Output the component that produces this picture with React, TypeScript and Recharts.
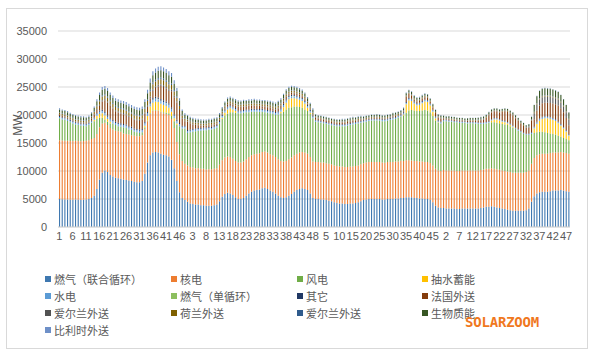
import { BarChart, Bar, XAxis, YAxis, CartesianGrid } from 'recharts'

// half-hour settlement periods, four days in a row
const halfHour = [
  1, 2, 3, 4, 5, 6, 7, 8, 9, 10, 11, 12, 13, 14, 15, 16, 17, 18, 19, 20, 21, 22, 23, 24,
  25, 26, 27, 28, 29, 30, 31, 32, 33, 34, 35, 36, 37, 38, 39, 40, 41, 42, 43, 44, 45, 46, 47, 48,
]
const periods = [...halfHour, ...halfHour, ...halfHour, ...halfHour]

const yTicks = [0, 5000, 10000, 15000, 20000, 25000, 30000, 35000]

const gasCcgt = [
  5000, 4950, 4900, 4900, 4850, 4850, 4900, 4850, 4800, 4850, 4900, 5000, 5200, 5600, 6800, 8500, 9700, 10100, 9800, 9300, 9000, 8800, 8700, 8600,
  8500, 8400, 8300, 8200, 8100, 8000, 8000, 8200, 9500, 11500, 12800, 13300, 13400, 13300, 13100, 12900, 12800, 12600, 12000, 10500, 8200, 6200, 5200, 4800,
  4500, 4200, 4100, 4000, 4000, 3900, 3900, 3800, 3800, 3800, 3900, 4000, 4600, 5400, 5900, 6100, 6000, 5700, 5300, 5000, 5000, 5200, 5600, 6000,
  6300, 6500, 6600, 6700, 6900, 7000, 6800, 6500, 6300, 6000, 5600, 5300, 5200, 5300, 5600, 5900, 6300, 6600, 6800, 6900, 6800, 6600, 6000, 5200,
  5000, 5000, 4900, 4900, 4800, 4700, 4600, 4400, 4300, 4200, 4200, 4100, 4100, 4200, 4200, 4300, 4400, 4600, 4800, 4900, 5000, 5000, 5000, 5000,
  5000, 4900, 4900, 5000, 5000, 5000, 5100, 5100, 5200, 5200, 5300, 5300, 5300, 5200, 5200, 5100, 5100, 5000, 5000, 4800, 4400, 3800, 3500, 3400,
  3400, 3300, 3300, 3300, 3300, 3200, 3200, 3300, 3300, 3300, 3300, 3300, 3300, 3300, 3400, 3500, 3600, 3600, 3700, 3600, 3500, 3400, 3300, 3200,
  3100, 3000, 2900, 2900, 2900, 2900, 2900, 3000, 3300, 4500, 5500, 6000, 6200, 6300, 6300, 6300, 6400, 6500, 6500, 6500, 6600, 6500, 6400, 6300,
]

const nuclear = [
  10500, 10500, 10510, 10500, 10490, 10500, 10500, 10510, 10500, 10490, 10500, 10500, 10500, 10300, 9800, 9300, 8800, 8500, 8400, 8400, 8400, 8400, 8400, 8400,
  8200, 8200, 8200, 8200, 8200, 8200, 8200, 8200, 8000, 7400, 7400, 7400, 7400, 7400, 7400, 7400, 7400, 7400, 7300, 7200, 7000, 6800, 6600, 6500,
  6500, 6500, 6510, 6510, 6500, 6500, 6490, 6490, 6500, 6500, 6510, 6510, 6500, 6500, 6500, 6490, 6490, 6500, 6500, 6500, 6510, 6510, 6500, 6500,
  6500, 6500, 6490, 6490, 6500, 6500, 6500, 6510, 6510, 6500, 6500, 6500, 6490, 6490, 6500, 6500, 6500, 6500, 6510, 6510, 6500, 6500, 6500, 6500,
  6600, 6600, 6610, 6610, 6600, 6600, 6590, 6590, 6600, 6600, 6610, 6610, 6600, 6600, 6600, 6590, 6590, 6600, 6600, 6600, 6610, 6610, 6600, 6600,
  6600, 6600, 6590, 6590, 6600, 6600, 6600, 6610, 6610, 6600, 6600, 6600, 6590, 6590, 6600, 6600, 6600, 6600, 6610, 6610, 6600, 6600, 6600, 6600,
  6800, 6800, 6810, 6810, 6800, 6800, 6790, 6790, 6800, 6800, 6810, 6810, 6800, 6800, 6800, 6790, 6790, 6800, 6800, 6800, 6810, 6810, 6800, 6800,
  6800, 6800, 6790, 6790, 6800, 6800, 6800, 6810, 6810, 6800, 6800, 6800, 6790, 6790, 6800, 6800, 6800, 6800, 6810, 6810, 6800, 6800, 6800, 6800,
]

const wind = [
  3900, 3750, 3750, 3550, 3350, 3150, 2900, 2850, 2800, 2750, 2600, 2700, 2900, 3000, 2700, 1700, 1000, 600, 600, 800, 1100, 1000, 900, 900,
  1100, 1100, 900, 900, 700, 700, 600, 500, 300, 100, 100, 100, 100, 100, 100, 200, 200, 300, 500, 1200, 3000, 5000, 5800, 6300,
  5800, 6200, 6400, 6600, 6700, 6800, 6900, 7000, 7100, 7100, 7100, 7200, 7300, 7400, 7500, 7700, 8000, 8300, 8600, 8800, 8800, 8700, 8400, 8000,
  7800, 7600, 7500, 7400, 7200, 7000, 7100, 7300, 7400, 7500, 8000, 8500, 8900, 9200, 9200, 9000, 8700, 8400, 8100, 7900, 7700, 7600, 7700, 7700,
  7200, 7100, 7100, 7000, 7000, 7000, 7000, 7100, 7100, 7200, 7200, 7300, 7400, 7400, 7500, 7500, 7500, 7400, 7300, 7300, 7300, 7400, 7400, 7400,
  7400, 7400, 7400, 7400, 7500, 7600, 7600, 7800, 7900, 8100, 8500, 8900, 9000, 9000, 8900, 9000, 9100, 9300, 9200, 9100, 8800, 8600, 8500, 8500,
  8700, 8800, 8700, 8700, 8600, 8700, 8600, 8500, 8500, 8400, 8400, 8400, 8400, 8300, 8200, 8100, 8100, 8200, 8200, 8300, 8300, 8300, 8300, 8300,
  8300, 8200, 8100, 7800, 7500, 7200, 6900, 6600, 6300, 5300, 4500, 4100, 4000, 3900, 3800, 3700, 3500, 3300, 3200, 3000, 2700, 2600, 2500, 2400,
]

const pumped = [
  0, 0, 0, 0, 0, 0, 0, 0, 0, 0, 0, 0, 0, 200, 500, 700, 800, 700, 500, 300, 0, 0, 0, 0,
  0, 0, 0, 0, 0, 0, 0, 0, 300, 800, 1200, 1400, 1500, 1500, 1400, 1300, 1200, 1000, 800, 500, 300, 0, 0, 0,
  0, 0, 0, 0, 0, 0, 0, 0, 0, 0, 0, 0, 0, 200, 500, 700, 700, 500, 300, 0, 0, 0, 0, 0,
  0, 0, 0, 0, 0, 0, 0, 0, 0, 0, 0, 300, 800, 1200, 1500, 1600, 1500, 1400, 1300, 1200, 1000, 600, 200, 0,
  0, 0, 0, 0, 0, 0, 0, 0, 0, 0, 0, 0, 0, 0, 0, 0, 0, 0, 0, 0, 0, 0, 0, 0,
  0, 0, 0, 0, 0, 0, 0, 0, 0, 200, 1500, 1800, 1600, 1200, 1000, 1100, 1300, 1500, 1500, 1200, 800, 400, 100, 0,
  0, 0, 0, 0, 0, 0, 0, 0, 0, 0, 0, 0, 0, 0, 0, 0, 0, 0, 300, 500, 600, 500, 400, 400,
  300, 200, 100, 0, 0, 0, 0, 0, 0, 0, 800, 1500, 2000, 2300, 2500, 2600, 2600, 2500, 2400, 2200, 2000, 1700, 1300, 800,
]

const hydro = [
  250, 250, 250, 250, 250, 250, 250, 250, 250, 250, 250, 250, 250, 280, 330, 380, 400, 400, 400, 380, 380, 380, 380, 380,
  380, 380, 380, 380, 380, 380, 380, 380, 400, 450, 500, 500, 500, 500, 500, 500, 500, 500, 480, 450, 400, 350, 300, 280,
  300, 300, 290, 290, 280, 280, 280, 280, 280, 290, 300, 310, 320, 330, 340, 340, 340, 330, 320, 310, 300, 300, 300, 300,
  300, 300, 300, 300, 300, 300, 300, 310, 320, 340, 360, 380, 390, 390, 380, 370, 360, 350, 340, 330, 320, 310, 300, 300,
  200, 200, 200, 190, 190, 190, 190, 190, 190, 190, 200, 200, 210, 210, 210, 210, 210, 200, 200, 200, 200, 200, 200, 200,
  200, 200, 200, 200, 200, 200, 200, 210, 220, 230, 240, 250, 250, 250, 240, 240, 230, 220, 210, 200, 200, 200, 200, 200,
  150, 150, 150, 150, 150, 140, 140, 140, 140, 150, 150, 150, 160, 160, 170, 170, 170, 160, 160, 160, 150, 150, 150, 150,
  150, 150, 150, 150, 150, 150, 150, 160, 170, 190, 210, 230, 240, 240, 240, 230, 220, 210, 200, 190, 180, 170, 160, 150,
]

const gasOcgt = [
  0, 0, 0, 0, 0, 0, 0, 0, 0, 0, 0, 0, 0, 0, 0, 0, 0, 0, 0, 0, 0, 0, 0, 0,
  0, 0, 0, 0, 0, 0, 0, 0, 0, 10, 20, 30, 40, 40, 40, 30, 30, 20, 20, 10, 0, 0, 0, 0,
  0, 0, 0, 0, 0, 0, 0, 0, 0, 0, 0, 0, 0, 0, 0, 0, 0, 0, 0, 0, 0, 0, 0, 0,
  0, 0, 0, 0, 0, 0, 0, 0, 0, 0, 0, 0, 10, 20, 20, 20, 20, 10, 10, 0, 0, 0, 0, 0,
  0, 0, 0, 0, 0, 0, 0, 0, 0, 0, 0, 0, 0, 0, 0, 0, 0, 0, 0, 0, 0, 0, 0, 0,
  0, 0, 0, 0, 0, 0, 0, 0, 0, 0, 10, 10, 10, 0, 0, 0, 0, 10, 10, 0, 0, 0, 0, 0,
  0, 0, 0, 0, 0, 0, 0, 0, 0, 0, 0, 0, 0, 0, 0, 0, 0, 0, 0, 0, 0, 0, 0, 0,
  0, 0, 0, 0, 0, 0, 0, 0, 0, 0, 10, 20, 30, 30, 30, 30, 20, 20, 10, 0, 0, 0, 0, 0,
]

const other = [
  150, 150, 150, 150, 150, 150, 150, 150, 150, 150, 150, 150, 150, 170, 200, 230, 240, 240, 240, 230, 230, 230, 230, 230,
  230, 230, 230, 230, 230, 230, 230, 230, 240, 270, 300, 300, 300, 300, 300, 300, 300, 300, 290, 270, 240, 210, 180, 170,
  200, 200, 200, 200, 190, 190, 190, 190, 190, 190, 200, 200, 200, 210, 210, 210, 210, 210, 210, 200, 200, 200, 200, 200,
  200, 200, 200, 200, 200, 200, 200, 200, 210, 210, 220, 220, 220, 220, 220, 220, 210, 210, 210, 200, 200, 200, 200, 200,
  150, 150, 150, 150, 150, 140, 140, 140, 140, 140, 150, 150, 150, 150, 160, 160, 160, 160, 150, 150, 150, 150, 150, 150,
  150, 150, 150, 150, 150, 150, 150, 150, 160, 160, 170, 170, 170, 170, 160, 160, 160, 160, 150, 150, 150, 150, 150, 150,
  100, 100, 100, 100, 100, 100, 90, 90, 90, 90, 100, 100, 100, 100, 110, 110, 110, 110, 100, 100, 100, 100, 100, 100,
  100, 100, 100, 100, 100, 100, 100, 100, 110, 120, 130, 130, 130, 130, 130, 130, 120, 120, 120, 110, 110, 100, 100, 100,
]

const franceLink = [
  200, 200, 150, 150, 100, 100, 100, 100, 100, 100, 100, 100, 300, 520, 580, 840, 1480, 2080, 2280, 2240, 2040, 1840, 1840, 1740,
  1740, 1640, 1640, 1540, 1540, 1540, 1540, 1640, 1480, 930, 680, 1270, 1560, 1960, 2360, 2370, 2270, 2180, 2840, 3030, 3080, 2320, 1260, 820,
  1500, 1100, 800, 600, 500, 400, 300, 300, 300, 300, 300, 200, 200, 100, 200, 300, 300, 300, 400, 600, 600, 600, 500, 600,
  500, 600, 500, 500, 400, 500, 500, 500, 400, 400, 500, 400, 400, 400, 300, 300, 300, 300, 300, 300, 300, 200, 100, 100,
  400, 300, 300, 300, 300, 300, 300, 300, 300, 300, 300, 300, 300, 300, 300, 200, 200, 200, 100, 100, 100, 100, 100, 200,
  100, 100, 100, 100, 100, 200, 200, 100, 100, 100, 900, 700, 500, 300, 300, 300, 400, 400, 400, 300, 400, 600, 500, 500,
  200, 100, 200, 100, 200, 100, 200, 200, 100, 200, 200, 200, 200, 300, 400, 500, 700, 1100, 1200, 1200, 1200, 1200, 1500, 1700,
  1800, 1800, 1800, 1700, 1500, 1300, 1200, 1000, 1100, 2100, 1300, 2000, 2300, 2400, 2400, 2400, 2500, 2600, 2700, 2900, 2800, 2600, 2200, 1600,
]

const irelandLink = [
  100, 100, 100, 100, 100, 100, 100, 100, 100, 100, 100, 100, 100, 120, 160, 200, 220, 220, 220, 200, 200, 200, 200, 200,
  200, 200, 200, 200, 200, 200, 200, 200, 220, 260, 300, 300, 300, 300, 300, 300, 300, 300, 280, 260, 220, 180, 140, 120,
  100, 100, 100, 100, 100, 90, 90, 90, 90, 90, 100, 100, 100, 110, 110, 110, 110, 110, 100, 100, 100, 100, 100, 100,
  100, 100, 100, 100, 100, 100, 100, 100, 110, 110, 120, 120, 120, 120, 120, 110, 110, 110, 100, 100, 100, 100, 100, 100,
  50, 50, 50, 50, 50, 50, 40, 40, 40, 40, 50, 50, 50, 50, 60, 60, 60, 60, 50, 50, 50, 50, 50, 50,
  50, 50, 50, 50, 50, 50, 50, 50, 60, 60, 70, 70, 70, 70, 70, 60, 60, 60, 50, 50, 50, 50, 50, 50,
  50, 50, 50, 50, 50, 50, 40, 40, 40, 40, 50, 50, 50, 50, 60, 60, 60, 60, 50, 50, 50, 50, 50, 50,
  50, 50, 50, 50, 50, 50, 50, 50, 60, 70, 1080, 1090, 1090, 1090, 1090, 1080, 1080, 1070, 1070, 1060, 1060, 1050, 1050, 1050,
]

const dutchLink = [
  300, 300, 300, 300, 300, 300, 300, 300, 300, 300, 300, 300, 300, 360, 480, 600, 660, 660, 660, 600, 600, 600, 600, 600,
  600, 600, 600, 600, 600, 600, 600, 600, 660, 780, 900, 900, 900, 900, 900, 900, 900, 900, 840, 780, 660, 540, 420, 360,
  300, 300, 300, 300, 290, 290, 290, 290, 290, 290, 300, 300, 310, 320, 320, 320, 320, 320, 310, 310, 300, 300, 300, 300,
  300, 300, 300, 300, 300, 300, 300, 300, 310, 320, 340, 350, 350, 350, 340, 340, 330, 320, 310, 300, 300, 300, 300, 300,
  150, 150, 150, 150, 150, 140, 140, 140, 140, 140, 150, 150, 150, 160, 160, 160, 160, 160, 150, 150, 150, 150, 150, 150,
  150, 150, 150, 150, 150, 150, 150, 150, 160, 170, 180, 190, 190, 190, 180, 180, 170, 160, 160, 150, 150, 150, 150, 150,
  100, 100, 100, 100, 100, 100, 90, 90, 90, 90, 100, 100, 100, 110, 110, 110, 110, 110, 100, 100, 100, 100, 100, 100,
  100, 100, 100, 100, 100, 100, 100, 100, 110, 130, 150, 170, 180, 180, 180, 170, 160, 150, 140, 130, 120, 110, 100, 100,
]

const irelandLink2 = [
  100, 100, 100, 100, 100, 100, 100, 100, 100, 100, 100, 100, 100, 120, 160, 200, 220, 220, 220, 200, 200, 200, 200, 200,
  200, 200, 200, 200, 200, 200, 200, 200, 220, 260, 300, 300, 300, 300, 300, 300, 300, 300, 280, 260, 220, 180, 140, 120,
  100, 100, 100, 100, 90, 90, 90, 90, 90, 100, 100, 100, 110, 110, 110, 110, 110, 100, 100, 100, 100, 100, 100, 100,
  100, 100, 100, 100, 100, 100, 100, 110, 110, 120, 120, 120, 120, 120, 110, 110, 110, 100, 100, 100, 100, 100, 100, 100,
  50, 50, 50, 50, 50, 40, 40, 40, 40, 50, 50, 50, 50, 60, 60, 60, 60, 50, 50, 50, 50, 50, 50, 50,
  50, 50, 50, 50, 50, 50, 50, 60, 60, 70, 70, 70, 70, 70, 60, 60, 60, 50, 50, 50, 50, 50, 50, 50,
  50, 50, 50, 50, 50, 40, 40, 40, 40, 50, 50, 50, 50, 60, 60, 60, 60, 50, 50, 50, 50, 50, 50, 50,
  50, 50, 50, 50, 50, 50, 50, 60, 70, 80, 90, 90, 90, 90, 80, 80, 70, 70, 60, 60, 50, 50, 50, 50,
]

const biomass = [
  500, 500, 500, 500, 500, 500, 500, 500, 500, 500, 500, 500, 500, 580, 740, 900, 980, 980, 980, 900, 900, 900, 900, 900,
  900, 900, 900, 900, 900, 900, 900, 900, 980, 1140, 1300, 1300, 1300, 1300, 1300, 1300, 1300, 1300, 1220, 1140, 980, 820, 660, 580,
  500, 500, 500, 490, 490, 490, 490, 490, 490, 500, 500, 500, 510, 520, 520, 520, 520, 520, 510, 510, 500, 500, 500, 500,
  500, 500, 500, 500, 500, 500, 500, 500, 510, 520, 540, 550, 550, 550, 540, 540, 530, 520, 510, 500, 500, 500, 500, 500,
  300, 300, 300, 300, 290, 290, 290, 290, 290, 290, 300, 300, 300, 310, 310, 310, 310, 310, 300, 300, 300, 300, 300, 300,
  300, 300, 300, 300, 300, 300, 300, 300, 310, 320, 330, 340, 340, 340, 330, 330, 320, 310, 310, 300, 300, 300, 300, 300,
  300, 300, 300, 300, 290, 290, 290, 290, 290, 290, 300, 300, 300, 310, 310, 310, 310, 310, 300, 300, 300, 300, 300, 300,
  300, 300, 300, 300, 300, 300, 300, 300, 320, 360, 1200, 1220, 1230, 1230, 1230, 1220, 1210, 1200, 1180, 1160, 1140, 1120, 1110, 1100,
]

const belgiumLink = [
  200, 200, 200, 200, 200, 200, 200, 200, 200, 200, 200, 200, 200, 250, 350, 450, 500, 500, 500, 450, 450, 450, 450, 450,
  450, 450, 450, 450, 450, 450, 450, 450, 500, 600, 700, 700, 700, 700, 700, 700, 700, 700, 650, 600, 500, 400, 300, 250,
  200, 200, 200, 200, 190, 190, 190, 190, 190, 190, 200, 200, 200, 210, 210, 210, 210, 210, 200, 200, 200, 200, 200, 200,
  200, 200, 200, 200, 200, 200, 200, 200, 210, 220, 230, 240, 240, 240, 230, 230, 220, 210, 210, 200, 200, 200, 200, 200,
  100, 100, 100, 100, 100, 100, 90, 90, 90, 90, 100, 100, 100, 110, 110, 110, 110, 110, 100, 100, 100, 100, 100, 100,
  100, 100, 100, 100, 100, 100, 100, 100, 110, 120, 130, 130, 130, 130, 130, 120, 120, 110, 110, 100, 100, 100, 100, 100,
  50, 50, 50, 50, 50, 50, 40, 40, 40, 40, 50, 50, 50, 50, 60, 60, 60, 60, 50, 50, 50, 50, 50, 50,
  50, 50, 50, 50, 50, 50, 50, 50, 60, 70, 80, 90, 90, 90, 90, 80, 80, 70, 70, 60, 60, 50, 50, 50,
]

const seriesList = [
  { key: 'gasCcgt', name: '燃气（联合循环）', color: '#3f78b0', values: gasCcgt },
  { key: 'nuclear', name: '核电', color: '#ed7d31', values: nuclear },
  { key: 'wind', name: '风电', color: '#70ad47', values: wind },
  { key: 'pumped', name: '抽水蓄能', color: '#ffc000', values: pumped },
  { key: 'hydro', name: '水电', color: '#5b9bd5', values: hydro },
  { key: 'gasOcgt', name: '燃气（单循环）', color: '#8cbf5f', values: gasOcgt },
  { key: 'other', name: '其它', color: '#203864', values: other },
  { key: 'franceLink', name: '法国外送', color: '#843c0c', values: franceLink },
  { key: 'irelandLink', name: '爱尔兰外送', color: '#525252', values: irelandLink },
  { key: 'dutchLink', name: '荷兰外送', color: '#7f6000', values: dutchLink },
  { key: 'irelandLink2', name: '爱尔兰外送', color: '#2f5b8c', values: irelandLink2 },
  { key: 'biomass', name: '生物质能', color: '#375623', values: biomass },
  { key: 'belgiumLink', name: '比利时外送', color: '#6e90c8', values: belgiumLink },
]

const data = periods.map((p, i) => {
  const row: Record<string, number> = { period: p }
  seriesList.forEach((s) => {
    row[s.key] = s.values[i]
  })
  return row
})

const axisFont = { fontSize: 11, fill: '#595959', fontFamily: 'Liberation Sans, Arial, sans-serif' }

function MwLabel() {
  return (
    <text x={18} y={125} transform="rotate(-90 18 125)" textAnchor="middle" dominantBaseline="central" fontSize={12} fill="#595959" fontFamily="Liberation Sans, Arial, sans-serif">
      MW
    </text>
  )
}

export default function App() {
  return (
    <div style={{ position: 'fixed', left: 0, top: 0, width: 598, height: 359, background: '#fff', overflow: 'hidden' }}>
      <div style={{ position: 'absolute', left: 6, top: 8, width: 580, height: 339, border: '1px solid #d9d9d9' }} />
      <div style={{ position: 'absolute', left: 0, top: 0 }}>
        <BarChart width={598} height={359} data={data} margin={{ top: 31, right: 28, left: 0, bottom: 102 }} barSize={1.1}>
          <CartesianGrid vertical={false} stroke="#d9d9d9" />
          <XAxis
            dataKey="period"
            interval={4}
            height={30}
            tickLine={false}
            tickSize={4}
            tickMargin={1}
            axisLine={{ stroke: '#d9d9d9' }}
            tick={axisFont}
          />
          <YAxis
            width={58}
            domain={[0, 35000]}
            ticks={yTicks}
            axisLine={false}
            tickLine={false}
            tickSize={6}
            tickMargin={5}
            tick={axisFont}
            label={<MwLabel />}
          />
          {seriesList.map((s) => (
            <Bar key={s.key} dataKey={s.key} name={s.name} stackId="gen" fill={s.color} isAnimationActive={false} />
          ))}
        </BarChart>
      </div>
      {seriesList.map((s, i) => {
        const col = i % 4
        const row = Math.floor(i / 4)
        const left = [45, 171, 297, 422][col]
        const top = 278.5 + row * 17.2
        return (
          <div
            key={s.key + i}
            style={{
              position: 'absolute',
              left,
              top: top - 8,
              height: 16,
              display: 'flex',
              alignItems: 'center',
              fontSize: 11,
              color: '#595959',
              fontFamily: '"Noto Sans CJK SC", sans-serif',
              whiteSpace: 'nowrap',
            }}
          >
            <span style={{ display: 'inline-block', width: 6, height: 6, background: s.color, marginRight: 3 }} />
            {s.name}
          </div>
        )
      })}
      <div
        style={{
          position: 'absolute',
          left: 465,
          top: 314,
          fontSize: 14,
          fontWeight: 'bold',
          color: '#f0781e',
          fontFamily: '"DejaVu Sans Mono", monospace',
          letterSpacing: -0.2,
        }}
      >
        SOLARZOOM
      </div>
    </div>
  )
}
